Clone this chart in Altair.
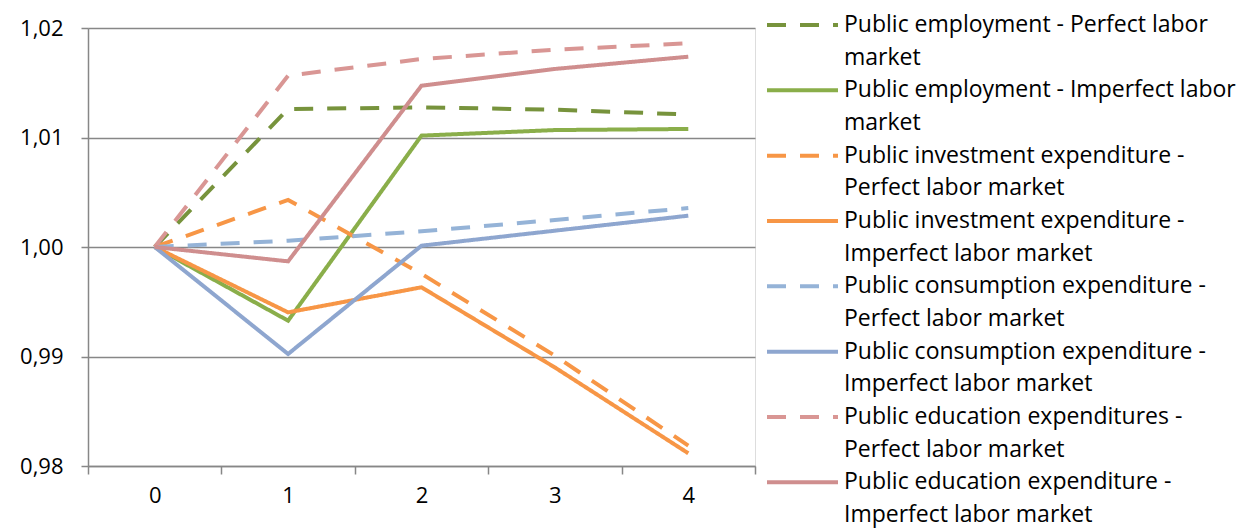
import altair as alt
import pandas as pd

periods = [0, 1, 2, 3, 4]

series_names = [
    "Public employment - Perfect labor market",
    "Public employment - Imperfect labor market",
    "Public investment expenditure - Perfect labor market",
    "Public investment expenditure - Imperfect labor market",
    "Public consumption expenditure - Perfect labor market",
    "Public consumption expenditure - Imperfect labor market",
    "Public education expenditures - Perfect labor market",
    "Public education expenditure - Imperfect labor market",
]
series_styles = ["Perfect", "Imperfect"] * 4

emp_perfect = [1.0, 1.0126, 1.01275, 1.01254, 1.0121]
emp_imperfect = [1.0, 0.99327, 1.01017, 1.01068, 1.01078]
inv_perfect = [1.0, 1.0043, 0.99755, 0.99007, 0.98186]
inv_imperfect = [1.0, 0.99403, 0.99632, 0.98900, 0.98116]
con_perfect = [1.0, 1.00058, 1.00143, 1.00247, 1.00356]
con_imperfect = [1.0, 0.99023, 1.00012, 1.00149, 1.00286]
edu_perfect = [1.0, 1.01565, 1.01717, 1.01802, 1.0186]
edu_imperfect = [1.0, 0.99869, 1.01473, 1.01626, 1.01738]

series_values = [emp_perfect, emp_imperfect, inv_perfect, inv_imperfect,
                 con_perfect, con_imperfect, edu_perfect, edu_imperfect]

series_colors = ["#77933C", "#8AAE4A", "#F79646", "#F79646",
                 "#95B3D7", "#8EA6CF", "#D99694", "#CF8E8E"]

legend_lines = [
    "Public employment - Perfect labor", "market",
    "Public employment - Imperfect labor", "market",
    "Public investment expenditure -", "Perfect labor market",
    "Public investment expenditure -", "Imperfect labor market",
    "Public consumption expenditure -", "Perfect labor market",
    "Public consumption expenditure -", "Imperfect labor market",
    "Public education expenditures -", "Perfect labor market",
    "Public education expenditure -", "Imperfect labor market",
]

y_ticks = [0.98, 0.99, 1.00, 1.01, 1.02]

FONT = "Open Sans"
FS = 22
LFS = 23
GRID = "#878787"

rows = []
for i, (name, style, vals) in enumerate(zip(series_names, series_styles, series_values)):
    for t, v in zip(periods, vals):
        rows.append({"t": t, "value": v, "series": name, "style": style, "order": i})
df = pd.DataFrame(rows)

sym_df = pd.DataFrame({"k": [2 * i for i in range(len(series_names))],
                       "series": series_names, "style": series_styles})
txt_df = pd.DataFrame({"k": list(range(len(legend_lines))), "text": legend_lines})

color_scale = alt.Scale(domain=series_names, range=series_colors)
dash_scale = alt.Scale(domain=["Perfect", "Imperfect"], range=[[19, 14], [1, 0]])
leg_y = alt.Scale(domain=[0, 15], range=[-3, 487])

lines = alt.Chart(df).mark_line(strokeWidth=4).encode(
    x=alt.X("t:O", scale=alt.Scale(type="band", paddingInner=0, paddingOuter=0),
            axis=alt.Axis(title=None, labelAngle=0, tickBand="extent", grid=False,
                          domainColor=GRID, domainWidth=1.5, tickColor=GRID, tickWidth=1.5,
                          tickSize=8, labelPadding=11, labelFont=FONT, labelFontSize=FS,
                          labelColor="#000000")),
    y=alt.Y("value:Q", scale=alt.Scale(domain=[0.98, 1.02], nice=False, zero=False),
            axis=alt.Axis(title=None, values=y_ticks,
                          labelExpr="replace(format(datum.value, '.2f'), '.', ',')",
                          grid=True, gridColor=GRID, gridWidth=1.5,
                          domainColor=GRID, domainWidth=1.5, tickColor=GRID, tickWidth=1.5,
                          tickSize=7, labelPadding=18, labelFont=FONT, labelFontSize=FS,
                          labelColor="#000000")),
    color=alt.Color("series:N", scale=color_scale, legend=None),
    strokeDash=alt.StrokeDash("style:N", scale=dash_scale, legend=None),
    detail="series:N",
)

sym = alt.Chart(sym_df).mark_rule(strokeWidth=4).encode(
    x=alt.value(679), x2=alt.value(750),
    y=alt.Y("k:Q", scale=leg_y, axis=None),
    color=alt.Color("series:N", scale=color_scale, legend=None),
    strokeDash=alt.StrokeDash("style:N", scale=dash_scale, legend=None),
)

txt = alt.Chart(txt_df).mark_text(align="left", baseline="middle", font=FONT,
                                  fontSize=LFS, color="#000000").encode(
    x=alt.value(756),
    y=alt.Y("k:Q", scale=leg_y, axis=None),
    text="text:N",
)

chart = alt.layer(lines, sym, txt).resolve_scale(y="independent").properties(
    width=667, height=438,
    autosize=alt.AutoSizeParams(type="none"),
    padding={"left": 88, "top": 28, "right": 487, "bottom": 64},
).configure_view(stroke=None).configure(background="#ffffff")

chart.save("out.html", embed_options={"renderer": "svg", "actions": False})
